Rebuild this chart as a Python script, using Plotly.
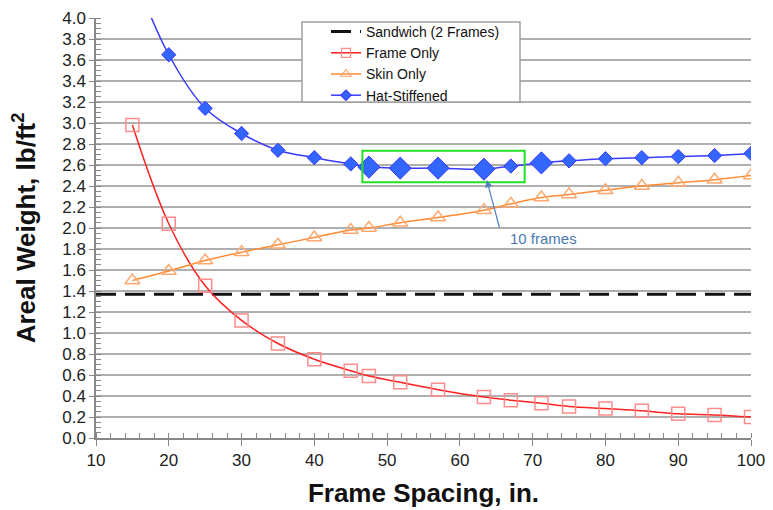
import plotly.graph_objects as go

# ---- data ----
frame_spacing = [15, 20, 25, 30, 35, 40, 45, 47.5, 51.8, 57.0, 63.3, 67, 71.2, 75, 80, 85, 90, 95, 100]
frame_only = [2.98, 2.04, 1.45, 1.12, 0.90, 0.75, 0.64, 0.59, 0.53, 0.46, 0.39, 0.36, 0.33, 0.30, 0.28, 0.26, 0.23, 0.22, 0.20]
skin_only = [1.50, 1.59, 1.69, 1.77, 1.84, 1.91, 1.98, 2.00, 2.05, 2.10, 2.17, 2.23, 2.29, 2.32, 2.36, 2.40, 2.43, 2.46, 2.50]
hat_stiffened = [4.45, 3.65, 3.14, 2.90, 2.74, 2.67, 2.61, 2.58, 2.57, 2.57, 2.56, 2.59, 2.62, 2.64, 2.66, 2.67, 2.68, 2.69, 2.71]
hat_highlight = [False, False, False, False, False, False, False, True, True, True, True, False, True, False, False, False, False, False, False]
sandwich_x = [10, 100]
sandwich_y = [1.37, 1.37]
y_ticks = [round(0.2 * i, 1) for i in range(21)]
x_ticks = list(range(10, 101, 10))
box_x = [46.6, 68.9]
box_y = [2.435, 2.736]
note_text = "10 frames"
note_point = (63.7, 2.457)

FONT = "Liberation Sans, Arial, sans-serif"

RED, RED_M = "#FF2020", "#FF8C8C"
ORG, ORG_M = "#FF8A33", "#FFA870"
BLU, BLU_M = "#3A3AFF", "#3366FF"

fig = go.Figure()

fig.add_trace(go.Scatter(
    x=sandwich_x, y=sandwich_y, mode="lines", name="Sandwich (2 Frames)",
    line=dict(color="#111111", width=3, dash="20px,9px"),
))
fig.add_trace(go.Scatter(
    x=frame_spacing, y=frame_only, mode="lines+markers", name="Frame Only", showlegend=False,
    line=dict(color=RED, width=1.5, shape="spline"),
    marker=dict(symbol="square-open", size=13, color=RED_M, line=dict(width=1.5)),
))
fig.add_trace(go.Scatter(
    x=frame_spacing, y=skin_only, mode="lines+markers", name="Skin Only", showlegend=False,
    line=dict(color=ORG, width=1.5, shape="spline"),
    marker=dict(symbol="triangle-up-open", size=13, color=ORG_M, line=dict(width=1.5)),
))
fig.add_trace(go.Scatter(
    x=frame_spacing, y=hat_stiffened, mode="lines+markers", name="Hat-Stiffened", showlegend=False,
    line=dict(color=BLU, width=1.5, shape="spline"),
    marker=dict(symbol="diamond", color=BLU_M, opacity=1,
                size=[17 if h else 11 for h in hat_highlight]),
))

# legend-only entries (small markers as in the reference legend)
for name, lc, mc, sym, ms in [("Frame Only", RED, RED_M, "square-open", 9),
                              ("Skin Only", ORG, ORG_M, "triangle-up-open", 9),
                              ("Hat-Stiffened", BLU, BLU_M, "diamond", 8)]:
    fig.add_trace(go.Scatter(x=[None], y=[None], mode="lines+markers", name=name,
                             line=dict(color=lc, width=1.5),
                             marker=dict(symbol=sym, size=ms, color=mc, opacity=1, line=dict(width=1.2))))

# green highlight box
fig.add_shape(type="rect", xref="x", yref="y", x0=box_x[0], x1=box_x[1], y0=box_y[0], y1=box_y[1],
              line=dict(color="#22E022", width=2), fillcolor="rgba(0,0,0,0)")

# legend box
fig.add_shape(type="rect", xref="paper", yref="paper",
              x0=(302 - 96) / 655, x1=(520 - 96) / 655, y0=(438 - 102) / 420, y1=(438 - 22) / 420,
              line=dict(color="#A0A0A0", width=1.5), fillcolor="white", layer="above")

# annotation
fig.add_annotation(x=note_point[0], y=note_point[1], xref="x", yref="y", text="",
                   showarrow=True, ax=13, ay=49, arrowhead=2, arrowsize=1.2, arrowwidth=1.2,
                   arrowcolor="#4F81BD")
fig.add_annotation(x=note_point[0] + 7.8, y=note_point[1] - 0.56, xref="x", yref="y", text=note_text,
                   showarrow=False, font=dict(family=FONT, size=15, color="#4A78B0"))

fig.update_layout(
    width=773, height=510,
    margin=dict(l=96, r=22, t=18, b=72),
    paper_bgcolor="white", plot_bgcolor="white",
    font=dict(family=FONT, color="#222222"),
    showlegend=True,
    legend=dict(x=(326 - 96) / 655, y=(438 - 16) / 420, xanchor="left", yanchor="top",
                bgcolor="rgba(0,0,0,0)", borderwidth=0,
                font=dict(family=FONT, size=14, color="#111111"),
                tracegroupgap=0, itemsizing="trace"),
    xaxis=dict(
        range=[10, 100], tickmode="array", tickvals=x_ticks, ticktext=[str(v) for v in x_ticks],
        showgrid=False, zeroline=False, showline=True, linecolor="#888888", linewidth=1.5,
        ticks="outside", ticklen=6, tickcolor="#888888", tickwidth=1.2, automargin=False,
        minor=dict(dtick=2, ticks="inside", ticklen=5, tickcolor="#888888", showgrid=False),
        tickfont=dict(family=FONT, size=17, color="#222222"),
        title=dict(text="<b>Frame Spacing, in.</b>", font=dict(family=FONT, size=26, color="#111111"), standoff=15),
    ),
    yaxis=dict(
        range=[0, 4], tickmode="array", tickvals=y_ticks, ticktext=[f"{v:.1f}" for v in y_ticks],
        showgrid=True, gridcolor="#AFAFAF", gridwidth=1.6, zeroline=False,
        showline=True, linecolor="#888888", linewidth=1.5, automargin=False,
        ticks="outside", ticklen=5, tickcolor="#888888", tickwidth=1.2,
        minor=dict(dtick=0.05, ticks="inside", ticklen=5, tickcolor="#888888", showgrid=False),
        tickfont=dict(family=FONT, size=17, color="#222222"),
        title=dict(text="<b>Areal Weight, lb/ft<sup>2</sup></b>", font=dict(family=FONT, size=26, color="#111111"), standoff=19),
    ),
)

fig.write_html("out.html")
